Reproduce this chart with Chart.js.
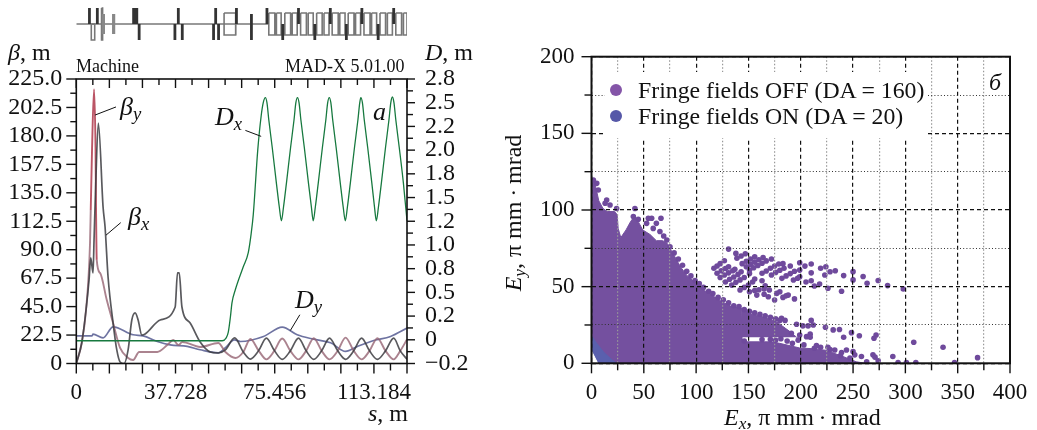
<!DOCTYPE html>
<html>
<head>
<meta charset="utf-8">
<script src="https://cdn.jsdelivr.net/npm/chart.js@4/dist/chart.umd.min.js"></script>
<style>
    html, body { margin: 0; background: #fff; }
    body { position: relative; width: 1037px; height: 430px; overflow: hidden; font-family: "Liberation Serif", serif; color: #111; }
    canvas { position: absolute; }
    .t { position: absolute; line-height: 1; white-space: nowrap; font-size: 24px; }
    .t i { font-style: italic; }
    .t sub { font-size: 0.72em; font-style: italic; line-height: 0; vertical-align: -0.25em; }
    #strip { left: 0; top: 0; filter: blur(0.5px); }
    #optics { left: 0; top: 60px; }
    #aperture { left: 500px; top: 40px; }
    #legend { position: absolute; left: 605px; top: 72px; width: 322px; height: 66px; background: #fff; }
    #legend div { position: absolute; left: 33px; font-size: 23.8px; line-height: 1; white-space: nowrap; }
    #legend span { position: absolute; left: 5px; width: 12px; height: 12px; border-radius: 50%; }
</style>
</head>
<body>
<canvas id="strip" width="480" height="45"></canvas>
<canvas id="optics" width="480" height="370"></canvas>
<canvas id="aperture" width="537" height="390"></canvas>

<div class="t" style="left:8px;top:40px"><i>β</i>, m</div>
<div class="t" style="left:425px;top:40px"><i>D</i>, m</div>
<div class="t" style="left:76px;top:57px;font-size:18px">Machine</div>
<div class="t" style="left:285px;top:57px;font-size:18px">MAD-X 5.01.00</div>
<div class="t" style="left:373px;top:99px;font-size:26px"><i>a</i></div>
<div class="t" style="left:120px;top:94px;font-size:26px"><i>β</i><sub>y</sub></div>
<div class="t" style="left:128px;top:204px;font-size:26px"><i>β</i><sub>x</sub></div>
<div class="t" style="left:215px;top:104px;font-size:26px"><i>D</i><sub>x</sub></div>
<div class="t" style="left:295px;top:287px;font-size:26px"><i>D</i><sub>y</sub></div>
<div class="t" style="left:368px;top:401px"><i>s</i>, m</div>

<div id="legend">
    <span style="top:12px;background:#8455a8"></span><div style="top:7px">Fringe fields OFF (DA = 160)</div>
    <span style="top:38px;background:#5658a8"></span><div style="top:33px">Fringe fields ON (DA = 20)</div>
</div>
<div class="t" style="left:989px;top:70px;font-size:24px"><i>б</i></div>
<div class="t" style="left:724px;top:405px"><i>E</i><sub>x</sub>, π mm&thinsp;·&thinsp;mrad</div>
<div class="t" style="left:433px;top:201px;width:160px;text-align:center;transform:rotate(-90deg)"><i>E</i><sub>y</sub>, π mm&thinsp;·&thinsp;mrad</div>

<script>
    // left panel: optics along the machine
    var sTicks = [0, 6.288, 12.576, 18.864, 25.152, 31.44, 37.728, 44.016, 50.304, 56.592, 62.88,
        69.168, 75.456, 81.744, 88.032, 94.32, 100.608, 106.896, 113.184, 119.472, 125.76];
    var betaTickLabels = ['0', '22.5', '45.0', '67.5', '90.0', '112.5', '135.0', '157.5', '180.0', '202.5', '225.0'];
    var dispTickLabels = ['\u22120.2', '0', '0.2', '0.5', '0.8', '1.0', '1.2', '1.5', '1.8', '2.0', '2.2', '2.5', '2.8'];

    var betaYs = [0, 2.06, 3.7, 5.22, 5.49, 5.98, 6.75, 7.32, 7.51, 7.77, 9.03, 11.59, 13.99, 16.65, 19.7, 21.6, 23.9, 26.9, 30.8,
        34.6, 36.9, 38.8, 40.3, 47.1, 54, 56.7, 60.5, 63.5, 66.2, 69.4, 72.3, 75.3, 78.3, 81.4, 84.5, 87.4, 90.3, 93.3, 96.3, 99.4,
        102.4, 105.5, 108.5, 111.5, 114.5, 117.6, 120.7, 123.2, 125.76];
    var betaYv = [0, 16.2, 42.3, 95.3, 121.4, 168.9, 217, 168.9, 121.4, 81.9, 71.6, 50.2, 32, 12.3, 4.4, 2.8, 9.1, 9.1, 9.1,
        14.6, 18.6, 14.6, 17, 13.1, 16.2, 9.1, 4.4, 9.1, 19.4, 10, 3.3, 10, 19.8, 10, 3.3, 10, 20, 10, 3.3, 10,
        20.5, 10, 3.3, 10, 20, 10, 3.3, 10, 19];

    var betaXs = [0, 2.06, 3.7, 4.84, 5.49, 6.36, 6.75, 7.32, 8.38, 10.18, 10.94, 12.08, 13.99, 15.4, 16.65, 18.18, 19.7, 21.11, 22.38,
        23.51, 24.92, 26.18, 31.9, 37.6, 38.49, 39.14, 40.17, 43.3, 47.1, 50.95, 54, 56.7, 60.2, 63.5, 66.2, 69.3, 72.3, 75.4, 78.3,
        81.4, 84.5, 87.4, 90.3, 93.3, 96.3, 99.4, 102.4, 105.5, 108.5, 111.5, 114.5, 117.6, 120.7, 123.2, 125.76];
    var betaXv = [0, 16.2, 42.3, 66, 83.5, 71.6, 97.7, 137.2, 190.2, 123.8, 108, 68.4, 32, 10.7, 1.2, 0, 10.7, 34.4, 40,
        34.4, 22.5, 23.3, 34.4, 44.7, 71.6, 71.6, 44.7, 32, 17, 9.1, 8.3, 10.7, 20.2, 9.1, 3.5, 10, 20, 10, 3.3,
        10, 20, 10, 3.3, 10, 20, 10, 3.3, 10, 20, 10, 3.3, 10, 20, 10, 3.3];

    var dispXs = [0, 55.5, 57, 57.8, 58.6, 59.2, 60.5, 63.5, 65.4, 66.5, 67.3, 69, 70.3, 71.1, 71.9,
        72.5, 73.2, 74.5, 76.1, 77.2, 78, 78.8, 79.9, 81.5, 82.8, 83.5, 84.1,
        84.7, 85.4, 86.7, 88.3, 89.4, 90.1, 90.9, 92, 93.6, 94.9, 95.6, 96.2,
        96.8, 97.5, 98.8, 100.4, 101.5, 102.3, 103.1, 104.2, 105.8, 107.1, 107.8, 108.2,
        108.8, 109.5, 110.8, 112.4, 113.4, 114.1, 114.9, 116, 117.6, 118.9, 119.6, 120.2,
        120.8, 121.5, 122.8, 124.4, 125.76];
    var dispXv = [-0.01, -0.01, 0.02, 0.08, 0.24, 0.39, 0.53, 0.77, 0.92, 1.12, 1.32, 2, 2.36, 2.5, 2.553,
        2.5, 2.32, 2.03, 1.65, 1.4, 1.255, 1.4, 1.65, 2.03, 2.32, 2.5, 2.553,
        2.5, 2.32, 2.03, 1.65, 1.4, 1.255, 1.4, 1.65, 2.03, 2.32, 2.5, 2.553,
        2.5, 2.32, 2.03, 1.65, 1.4, 1.255, 1.4, 1.65, 2.03, 2.32, 2.5, 2.553,
        2.5, 2.32, 2.03, 1.65, 1.4, 1.255, 1.4, 1.65, 2.03, 2.32, 2.5, 2.56,
        2.5, 2.32, 2.03, 1.65, 1.255];

    var dispYs = [0, 6, 6.36, 10.18, 13.99, 21.6, 25.4, 30.8, 35.7, 42.2, 47.1, 54, 56.7, 60.1, 62.4, 71.2, 78.3, 84, 90.2, 96.7, 102.4, 106.9, 113.1, 119.5, 125.76];
    var dispYv = [0.042, 0.042, 0.06, 0.02, 0.137, 0.053, 0.042, -0.018, -0.053, -0.07, -0.105, -0.137, -0.084, 0, -0.018, 0.035, 0.134, 0.053, 0.007, -0.032, -0.123, -0.07, -0.007, 0.035, 0.123];

    var betaLeaders = [[7.13, 196.5], [15.1, 202.9], [11.3, 101.5], [16.9, 111.4]];
    var dispLeaders = [[64.3, 2.208], [70.3, 2.145], [81.4, 0.098], [85, 0.264]];

    // machine layout strip, heights relative to the centre line
    var beamLine = [[0, 0], [73.2, 0]];
    var boxes = [[5.7, 7, 0, -16], [56.2, 60.6, 11, -11], [60.6, 60.7, 11, -11], [9.6, 10, 16, -16],
        [73.2, 75.5, 11, -11], [76.1, 77.9, 11, -11], [79.3, 81.5, 11, -11], [82.1, 84, 11, -11],
        [85.3, 87.5, 11, -11], [88.2, 90.1, 11, -11], [91.4, 93.5, 11, -11], [94.2, 96.1, 11, -11],
        [97.3, 99.6, 11, -11], [100.2, 102.2, 11, -11], [103.4, 105.6, 11, -11], [106.2, 108.1, 11, -11],
        [109.4, 111.7, 11, -11], [112.3, 114.2, 11, -11], [115.5, 117.6, 11, -11], [118.3, 120.2, 11, -11],
        [121.5, 123.7, 11, -11], [124.4, 125.76, 11, -11]];
    var darkMagnets = [[5, 16, 0], [8, 16, 0], [23.9, 0, -16], [38.8, 16, 0], [37.5, 0, -16], [40.3, 0, -16],
        [53, 16, 0], [52.2, 0, -16], [54.1, 0, -16], [60.9, 16, 0], [66.6, 10, -16],
        [72.5, 16, 0], [84.5, 16, 0], [96.6, 16, 0], [108.6, 16, 0], [120.7, 16, 0],
        [78.5, 0, -16], [90.7, 0, -16], [102.7, 0, -16], [114.8, 0, -16]];
    var greyMagnets = [[10.3, 10, -10], [14.2, 10, -10]];
    var wideMagnets = [[22.4, 16, 0]];

    // right panel: dynamic aperture
    var energyXTicks = [0, 25, 50, 75, 100, 125, 150, 175, 200, 225, 250, 275, 300, 325, 350, 375, 400];
    var energyYTicks = [0, 25, 50, 75, 100, 125, 150, 175, 200];

    var offMass = [[0, 121], [3, 118], [5, 112], [7, 106], [11, 101], [15, 99], [22, 99], [24.5, 97], [25.5, 88], [28, 82], [33, 87],
        [37, 92], [41, 96], [45, 92], [49, 87], [56, 84], [62, 80], [68, 80], [72, 78.5], [78, 71.5], [85, 63], [91, 57.5], [100, 52],
        [108, 47.5], [116, 44], [125, 40], [134, 37], [143, 36], [144, 14], [172, 14], [180, 13], [199, 10], [212, 9.5], [224, 8.5],
        [234, 6], [244, 3.5], [253, 1], [262, 0]];
    var offBand = [[143, 36], [151, 32.5], [160, 31], [170, 29], [177, 27], [183, 24], [190, 20.5], [196, 17], [199, 17]];
    var onMass = [[0, 18], [5, 13], [12, 7], [20, 2], [24, 0]];
    var onCore = [[0, 8], [6, 0]];

    var offDots = [
        // upper edge near the axis
        [1.8, 119.6], [5, 117.4], [6.5, 113], [13, 104.4], [14.5, 106.5], [17.7, 103.3], [24, 101], [41.5, 101], [40, 95.7], [44.7, 94],
        [54.3, 94.6], [57.5, 94.6], [66.4, 94.6], [52.7, 91.3], [62, 91.3], [59, 88], [65.4, 86], [69, 83], [72, 80.4],
        // diagonal edge of the main mass
        [75, 76], [79, 72], [83, 68], [87, 64], [91, 60], [95, 57], [99, 54], [103, 52], [107, 49.5], [112, 47], [116, 45.5], [121, 43],
        [126, 41.5], [131, 39.5], [136, 37.5], [141, 37], [146, 35], [151, 34], [156, 33], [161, 32], [166, 31], [171, 30], [176, 29], [180, 28],
        // island rows
        [131, 74.5], [138, 71.7], [139, 68.5], [143, 70], [147, 71.5], [144, 65], [148, 66.5], [152, 68], [156, 69.5],
        [148, 63], [152, 64.5], [156, 66], [160, 67.5], [164, 69], [151, 60.8], [155, 62.3], [159, 63.8], [163, 65.3], [167, 66.8], [172, 68],
        [117, 62], [120, 63.5], [123, 65], [127, 66.9], [120, 58.7], [124, 60.3], [128, 61.8], [131, 63],
        [123, 56], [127, 57.6], [131, 59], [135, 60.4], [137, 61.3], [128, 53], [132, 54.8], [136, 56.3], [140, 58], [143, 59.7],
        [134, 51], [138, 52.8], [142, 54.4], [146, 56], [151, 58.5], [142, 47.8], [146, 49.5], [150, 51], [154, 53], [156, 55],
        [163, 58.7], [167, 60.2], [171, 62], [175, 63.5], [179, 64.8], [183, 65], [172, 57.6], [176, 59.3], [180, 60.7], [184, 62], [190, 63.5],
        [182, 55.4], [186, 57], [190, 58.5], [194, 60], [199, 60.8], [193, 54.3], [197, 55.5], [199, 56.5],
        [199, 65.6], [204, 63.4], [210, 64.8], [210, 59], [219, 62], [224, 63], [223, 57.6], [228, 59.7], [233, 60.4],
        [205, 53], [210, 53.8], [213, 50.4], [218, 51.7], [241, 57.2], [250, 59.8], [250, 54.4], [226, 49], [239, 47],
        [259.6, 56.6], [263.4, 52.2], [274, 54], [283, 50.7], [298, 48.5],
        [163, 53.8], [166, 50.6], [151, 46.7], [156, 47.5], [160, 48], [165, 48.5], [170, 47.8], [158, 44.5], [165, 45], [169, 43.4],
        [175, 41.3], [180, 46.7], [177, 45.6], [183, 43], [188, 44.5], [194, 42], [186, 44],
        // lower tail
        [308, 13.7], [336, 10.5], [369, 3.7], [288, 4.4], [347, 0.5], [293, 0.5], [301, 0.5], [310, 0.5],
        [272, 18.5], [270, 16.3], [256, 18], [248.5, 20], [241, 17], [237, 22], [231, 21.8], [223.6, 23.5], [210, 28], [212, 25],
        [207, 24.4], [202, 24.4], [196, 25.5], [181.6, 29.4], [185, 28], [209, 19], [205.5, 17.4], [209, 17], [197.5, 15], [191, 19.6], [199, 18.5],
        [243.7, 8.7], [239, 7], [232.5, 8.7], [228, 9], [250, 7.6], [251.6, 5.5], [269, 5.5], [271, 4], [274, 1.6], [258, 4.4], [263, 1],
        [219, 10.5], [213, 9.8], [176, 15], [181, 16], [187, 14.5], [192, 13], [203, 12], [215, 11.5], [226, 10.5], [238, 5], [247, 3.5],
        [163, 15.5], [171, 15.6], [146, 14.5]
    ];

    function pairs(xs, ys) {
        return xs.map(function (x, i) { return {x: x, y: ys[i]}; });
    }

    function points(list) {
        return list.map(function (p) { return {x: p[0], y: p[1]}; });
    }

    // two-point leader lines, with a gap between each couple
    function leaderPoints(list) {
        var out = [];
        list.forEach(function (p, i) {
            out.push({x: p[0], y: p[1]});
            if (i % 2 === 1) {
                out.push({x: p[0], y: null});
            }
        });
        return out;
    }

    function boxPoints(list) {
        var out = [];
        list.forEach(function (b) {
            out.push({x: b[0], y: b[2]}, {x: b[1], y: b[2]}, {x: b[1], y: b[3]}, {x: b[0], y: b[3]}, {x: b[0], y: b[2]}, {x: b[0], y: null});
        });
        return out;
    }

    function magnetPoints(list) {
        var out = [];
        list.forEach(function (m) {
            out.push({x: m[0], y: m[1]}, {x: m[0], y: m[2]}, {x: m[0], y: null});
        });
        return out;
    }

    // tick labels must not push the plot area inwards
    function noPadding(scale) {
        scale.paddingLeft = 0;
        scale.paddingRight = 0;
        scale.paddingTop = 0;
        scale.paddingBottom = 0;
    }

    // frame and alternating long/short tick marks
    var frameTicks = {
        id: 'frameTicks',
        afterDraw: function (chart, args, opts) {
            var ctx = chart.ctx;
            var area = chart.chartArea;
            ctx.save();
            ctx.strokeStyle = '#111';
            ctx.lineWidth = opts.width;
            ctx.strokeRect(area.left, area.top, area.width, area.height);
            ctx.lineWidth = 1.4;
            opts.marks.forEach(function (mark) {
                var scale = chart.scales[mark.scale];
                scale.ticks.forEach(function (tick, i) {
                    var pos = scale.getPixelForValue(tick.value);
                    var len = i % 2 ? mark.short : mark.long;
                    ctx.beginPath();
                    if (mark.side === 'left') {
                        ctx.moveTo(area.left, pos);
                        ctx.lineTo(area.left - len, pos);
                    } else if (mark.side === 'right') {
                        ctx.moveTo(area.right, pos);
                        ctx.lineTo(area.right + len, pos);
                    } else if (mark.side === 'bottom') {
                        ctx.moveTo(pos, area.bottom);
                        ctx.lineTo(pos, area.bottom + len);
                    } else {
                        ctx.moveTo(pos, area.top);
                        ctx.lineTo(pos, area.top + len);
                    }
                    ctx.stroke();
                });
            });
            ctx.restore();
        }
    };

    var tickFont = {family: '"Liberation Serif", serif', size: 23};
    var betaFont = {family: '"Liberation Serif", serif', size: 24};

    function line(label, data, color, width, axis) {
        return {
            label: label,
            data: data,
            yAxisID: axis,
            showLine: true,
            borderColor: color,
            borderWidth: width,
            pointRadius: 0,
            cubicInterpolationMode: 'monotone'
        };
    }

    function stripLine(data, color, width) {
        return {type: 'line', data: data, borderColor: color, borderWidth: width, pointRadius: 0, borderCapStyle: 'butt'};
    }

    new Chart(document.getElementById('strip'), {
        type: 'scatter',
        data: {
            datasets: [
                stripLine(magnetPoints(wideMagnets), '#333', 6),
                stripLine(magnetPoints(darkMagnets), '#333', 2.8),
                stripLine(magnetPoints(greyMagnets), '#888', 3.2),
                stripLine(points(beamLine), '#777', 1.4),
                stripLine(boxPoints(boxes), '#777', 1.6)
            ]
        },
        options: {
            responsive: false,
            animation: false,
            layout: {padding: {left: 76.3, right: 73, top: 0, bottom: 0}},
            plugins: {legend: {display: false}, tooltip: {enabled: false}},
            scales: {
                x: {display: false, min: 0, max: 125.76},
                y: {display: false, min: -21, max: 24}
            }
        }
    });

    var optics = new Chart(document.getElementById('optics'), {
        type: 'scatter',
        data: {
            datasets: [
                line('leaders', leaderPoints(betaLeaders), '#111', 1, 'y'),
                line('leaders D', leaderPoints(dispLeaders), '#111', 1, 'y2'),
                line('Dx', pairs(dispXs, dispXv), '#17793f', 1.3, 'y2'),
                line('betx', pairs(betaXs, betaXv), 'rgba(60,60,65,0.85)', 1.7, 'y'),
                Object.assign(line('bety', pairs(betaYs, betaYv), 'rgba(150,100,115,0.8)', 1.9, 'y'), {
                    segment: {
                        borderColor: function (ctx) {
                            return ctx.p0.parsed.y > 110 ? 'rgba(175,55,75,0.85)' : undefined;
                        }
                    }
                }),
                line('Dy', pairs(dispYs, dispYv), 'rgba(85,90,145,0.85)', 1.7, 'y2')
            ]
        },
        options: {
            responsive: false,
            animation: false,
            layout: {padding: {top: 19}},
            plugins: {
                legend: {display: false},
                tooltip: {enabled: false},
                frameTicks: {
                    width: 1.6,
                    marks: [
                        {scale: 'x', side: 'bottom', long: 10, short: 7},
                        {scale: 'x', side: 'top', long: 9, short: 6},
                        {scale: 'y', side: 'left', long: 10, short: 6},
                        {scale: 'y2', side: 'right', long: 8, short: 6}
                    ]
                }
            },
            scales: {
                x: {
                    min: 0,
                    max: 125.76,
                    grid: {display: false, drawTicks: false},
                    border: {display: false},
                    afterBuildTicks: function (scale) {
                        scale.ticks = sTicks.map(function (v) { return {value: v}; });
                    },
                    afterFit: function (scale) { scale.height = 66.5; noPadding(scale); },
                    ticks: {
                        font: tickFont,
                        color: '#111',
                        padding: 16,
                        autoSkip: false,
                        maxRotation: 0,
                        callback: function (v, i) { return i % 6 === 0 ? String(sTicks[i]) : ''; }
                    }
                },
                y: {
                    min: 0,
                    max: 225,
                    grid: {display: false, drawTicks: false},
                    border: {display: false},
                    afterFit: function (scale) { scale.width = 76.3; noPadding(scale); },
                    ticks: {
                        stepSize: 11.25,
                        font: betaFont,
                        color: '#111',
                        padding: 14,
                        autoSkip: false,
                        callback: function (v, i) { return i % 2 === 0 ? betaTickLabels[i / 2] : ''; }
                    }
                },
                y2: {
                    position: 'right',
                    min: -0.25,
                    max: 2.75,
                    grid: {display: false, drawTicks: false},
                    border: {display: false},
                    afterFit: function (scale) { scale.width = 73; noPadding(scale); },
                    ticks: {
                        stepSize: 0.125,
                        font: betaFont,
                        color: '#111',
                        padding: 18,
                        autoSkip: false,
                        callback: function (v, i) { return i % 2 === 0 ? dispTickLabels[i / 2] : ''; }
                    }
                }
            }
        },
        plugins: [frameTicks]
    });

    function mass(data, color, fill) {
        return {
            type: 'scatter',
            data: points(data),
            showLine: true,
            fill: fill,
            backgroundColor: color,
            borderColor: color,
            borderWidth: 1,
            pointRadius: 0
        };
    }

    var aperture = new Chart(document.getElementById('aperture'), {
        type: 'scatter',
        data: {
            datasets: [
                mass(onCore, '#ffffff', 'origin'),
                mass(onMass, '#5a60ae', 'origin'),
                {data: points(offDots), backgroundColor: '#6f4a9c', borderWidth: 0, pointRadius: 2.8},
                mass(offBand, '#74509f', {value: 17}),
                mass(offMass, '#74509f', 'origin')
            ]
        },
        options: {
            responsive: false,
            animation: false,
            layout: {padding: {top: 16.7, right: 27}},
            plugins: {
                legend: {display: false},
                tooltip: {enabled: false},
                frameTicks: {
                    width: 2,
                    marks: [
                        {scale: 'x', side: 'bottom', long: 10, short: 7},
                        {scale: 'y', side: 'left', long: 10, short: 7}
                    ]
                }
            },
            scales: {
                x: {
                    min: 0,
                    max: 400,
                    afterBuildTicks: function (scale) {
                        scale.ticks = energyXTicks.map(function (v) { return {value: v}; });
                    },
                    afterFit: function (scale) { scale.height = 66.7; noPadding(scale); },
                    grid: {
                        z: 1,
                        drawTicks: false,
                        color: function (ctx) { return ctx.index % 2 ? '#999' : '#111'; },
                        lineWidth: 1.2
                    },
                    border: {
                        display: false,
                        dash: function (ctx) { return ctx.index % 2 ? [1.5, 2] : [4, 3]; }
                    },
                    ticks: {
                        font: tickFont,
                        color: '#111',
                        padding: 16,
                        autoSkip: false,
                        maxRotation: 0,
                        callback: function (v, i) { return i % 2 === 0 ? String(v) : ''; }
                    }
                },
                y: {
                    min: 0,
                    max: 200,
                    afterBuildTicks: function (scale) {
                        scale.ticks = energyYTicks.map(function (v) { return {value: v}; });
                    },
                    afterFit: function (scale) { scale.width = 91.5; noPadding(scale); },
                    grid: {
                        z: 1,
                        drawTicks: false,
                        color: function (ctx) { return ctx.index % 2 ? '#333' : '#111'; },
                        lineWidth: function (ctx) { return ctx.index % 2 ? 1 : 1.2; }
                    },
                    border: {
                        display: false,
                        dash: function (ctx) { return ctx.index % 2 ? [1, 2.2] : [4, 3]; }
                    },
                    ticks: {
                        font: tickFont,
                        color: '#111',
                        padding: 17,
                        autoSkip: false,
                        callback: function (v, i) { return i % 2 === 0 ? String(v) : ''; }
                    }
                }
            }
        },
        plugins: [frameTicks]
    });
</script>
</body>
</html>
